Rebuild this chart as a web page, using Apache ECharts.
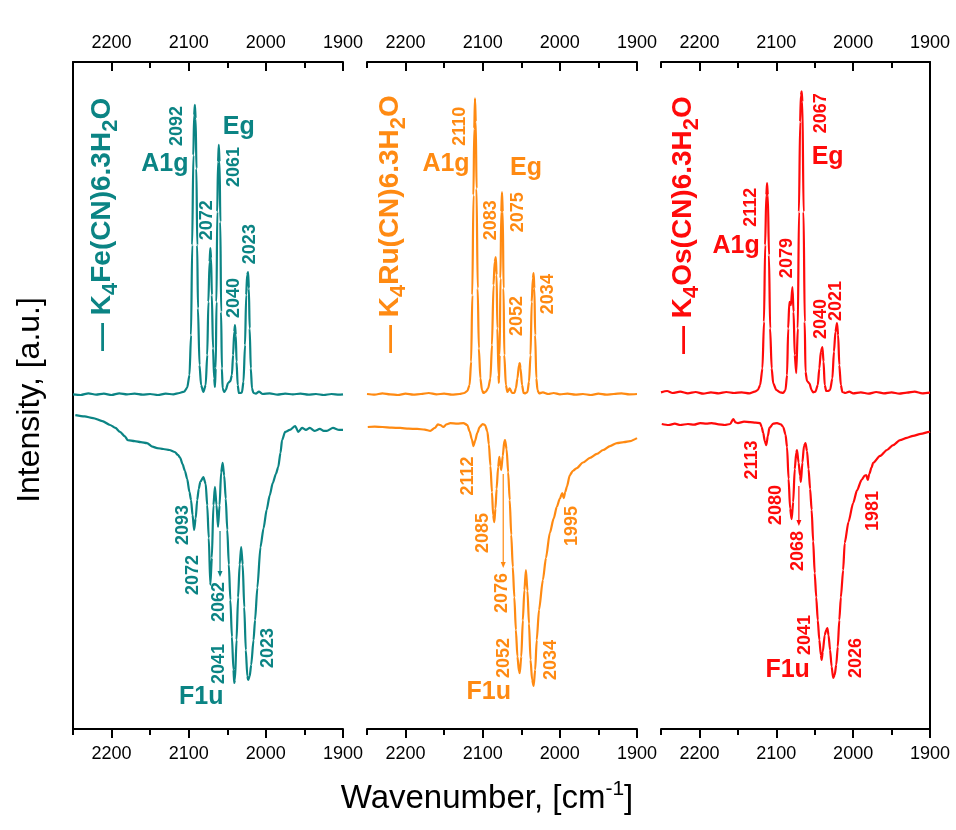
<!DOCTYPE html>
<html>
<head>
<meta charset="utf-8">
<script src="https://cdn.jsdelivr.net/npm/echarts@6/dist/echarts.min.js"></script>
<style>
  html, body { margin: 0; padding: 0; background: #ffffff; }
  #chart { width: 956px; height: 830px; }
</style>
</head>
<body>
<div id="chart"></div>
<script>
// ---- tick values of the wavenumber axes ----
const majorTicks = [2200, 2100, 2000, 1900];
const minorTicks = [2250, 2150, 2050, 1950];

// ---- Raman spectra [wavenumber, intensity] ----
const feRaman = [[2250,0.2],[2240,0.0],[2230,0.5],[2220,0.1],[2210,0.4],[2200,0.0],[2190,0.5],[2180,0.2],[2170,0.4],[2160,0.1],[2150,0.3],[2140,0.0],[2130,0.4],[2120,0.2],[2112,0.6],[2106,1.0],[2102,2.2],[2099,6],[2097,18],[2095.5,45],[2094,72],[2093,84],[2092,87.1],[2091,83],[2090,68],[2089,45],[2088,26],[2086,9],[2084,3],[2081,0.9],[2078,3],[2076,12],[2074.5,28],[2073,40],[2072,44.1],[2071,41],[2070,30],[2068.5,14],[2067,5],[2066,2.4],[2065,8],[2064,28],[2063,55],[2062,70],[2061,75.1],[2060,70],[2059,52],[2058,25],[2057,8],[2056,2],[2054,0.9],[2052,1.5],[2049,3.6],[2046,4.2],[2044,6],[2042.5,12],[2041,19],[2040,21],[2039,18],[2038,10],[2036.5,3],[2035,0.6],[2033,0.6],[2031,0.8],[2029,4],[2027,15],[2025.5,30],[2024.3,36],[2023,36.9],[2022,32],[2021,20],[2019.5,8],[2018,2],[2016,0.6],[2013,0.4],[2009,1.0],[2004,0.3],[1995,0.5],[1985,0.1],[1975,0.4],[1965,0.2],[1955,0.4],[1945,0.1],[1935,0.3],[1925,0.0],[1915,0.3],[1905,0.1],[1900,0.2]];
const ruRaman = [[2250,0.3],[2240,0.1],[2230,0.5],[2220,0.2],[2210,0.0],[2200,0.4],[2190,0.1],[2180,0.3],[2170,0.6],[2160,0.2],[2150,0.4],[2140,0.1],[2130,0.3],[2124,0.6],[2120,1.2],[2117,3],[2115,10],[2113.5,30],[2112,60],[2111,80],[2110,89.1],[2109,82],[2108,62],[2106.5,32],[2105,14],[2103,5],[2101,1.5],[2099,0.6],[2096,1.0],[2093,2],[2090,5],[2088,15],[2086,33],[2084.5,40],[2083,41.4],[2082,36],[2081,20],[2079.5,6],[2079,3.6],[2078,12],[2077,35],[2076,55],[2075,60.9],[2074,55],[2073,32],[2072,12],[2070,3],[2068,0.9],[2065,2],[2062,0.6],[2059,0.6],[2057,2],[2055,5],[2053,9],[2052,9.6],[2051,8],[2049,3],[2047,0.6],[2045,0.5],[2042,0.9],[2040,4],[2038,12],[2036.5,28],[2035,35],[2034,36.6],[2033,32],[2032,18],[2030.5,5],[2029,1.5],[2027,0.5],[2022,0.8],[2015,0.3],[2008,0.6],[2000,0.2],[1990,0.4],[1980,0.1],[1970,0.3],[1960,0.0],[1950,0.4],[1940,0.1],[1930,0.3],[1920,0.5],[1910,0.2],[1900,0.3]];
const osRaman = [[2250,0.8],[2242,1.2],[2235,0.6],[2225,1.0],[2215,0.5],[2205,0.9],[2195,0.4],[2185,0.8],[2175,0.5],[2165,0.9],[2155,0.6],[2145,0.8],[2135,0.5],[2128,1.0],[2124,1.5],[2121,3],[2118,8],[2116,22],[2114.5,45],[2113,60],[2112,63.6],[2111,60],[2109.5,42],[2108,20],[2106,8],[2104,3.5],[2100,1.5],[2095,0.8],[2091,0.6],[2088,1.5],[2086,6],[2084.5,20],[2083,28],[2081,27],[2079,32.4],[2077.5,25],[2076,12],[2074,6.6],[2072,20],[2070.5,55],[2069,82],[2068,90],[2067,91.2],[2066,88],[2064.5,55],[2063,22],[2062,7],[2060,4.2],[2057,3.5],[2054,1.5],[2052,0.8],[2049,1.0],[2046,3],[2044,8],[2042,13],[2040,14.4],[2038.5,10],[2037,3],[2035,1.2],[2033,1.2],[2030,1.5],[2027,5],[2025,13],[2023,19],[2021,21.6],[2019.5,18],[2018,9],[2016,3],[2014,0.9],[2010,0.6],[2005,1.0],[2000,0.5],[1990,0.8],[1980,0.4],[1970,0.9],[1960,0.5],[1950,0.8],[1940,0.4],[1930,0.7],[1920,1.0],[1910,0.5],[1900,0.7]];

// ---- IR transmittance spectra [wavenumber, T] ----
const feIR = [[2247,95.4],[2235,95.0],[2224,94.5],[2212,93.6],[2202,92.4],[2195,91.5],[2189,90.3],[2183,89.0],[2179,87.8],[2170,87.5],[2162,87.2],[2154,86.9],[2147,85.8],[2141,85.4],[2133,85.1],[2125,84.8],[2118,84.2],[2114,83.3],[2111,82.4],[2108,80.5],[2105,78.5],[2102,76.0],[2099,72.0],[2097,69.6],[2095,65],[2093,60.5],[2091,64],[2089,69.6],[2087,73],[2085,75.1],[2081,76.6],[2078,74.5],[2076,68],[2074,58],[2072,43.8],[2070,52],[2068,68],[2066,73.6],[2064,68.1],[2062,61.4],[2060,68],[2058,78],[2056,80.9],[2054,77],[2052,70],[2050,60.5],[2048,50],[2046,39.2],[2044,28],[2042,18],[2041,14.0],[2040,15],[2038,27.1],[2036,40],[2034,50],[2032,55.3],[2030,50],[2028,37],[2026,24.0],[2024,16],[2023,14.9],[2021,16],[2019,19.5],[2016,27],[2014,33.1],[2011,43],[2007,55.3],[2003,61],[1999,66.6],[1995,71],[1991,74.8],[1987,77.5],[1984,79.6],[1981,84],[1979,87.8],[1975,90.3],[1969,90.9],[1962,92.1],[1958,90.3],[1953,91.5],[1948,90.9],[1943,91.5],[1937,90.6],[1930,91.2],[1925,90.6],[1921,90.6],[1913,91.5],[1905,90.9],[1900,90.9]];
const ruIR = [[2249,91.8],[2240,91.9],[2230,91.8],[2218,91.6],[2207,91.5],[2196,91.3],[2185,91.2],[2175,91.0],[2168,90.6],[2162,91.5],[2158,92.6],[2155,92.4],[2151,91.8],[2147,92.6],[2142,93.0],[2133,92.8],[2125,93.0],[2120,92.4],[2117,90.5],[2114,88.0],[2112,86.0],[2110,87.5],[2107,90.0],[2104,91.8],[2100,92.7],[2097,92.4],[2094,90.5],[2092,86.5],[2090,80],[2088,72],[2086.5,65],[2085,62.9],[2083.5,67],[2082,73],[2080,79.6],[2078.5,82.7],[2077,80],[2076,78.7],[2074,83],[2072,87.5],[2071,87.8],[2069,85],[2067,78],[2065,69.6],[2063,59],[2061,49.2],[2059,40],[2057,30.1],[2055,22],[2053,17.5],[2052,17.0],[2050,22],[2048,33],[2046,42.2],[2044,48.3],[2042,42],[2040,32],[2038,21.0],[2036,15],[2034,13.1],[2032,18],[2030,27],[2027,36.2],[2022,45.3],[2018,52],[2013,59.6],[2008,64],[2004,67.5],[2000,70],[1997,71.7],[1995,70.2],[1993,72],[1991,73.6],[1987,77.2],[1983,78.5],[1978,79.3],[1970,81],[1961,82.4],[1952,83.6],[1944,84.8],[1935,86],[1926,86.9],[1917,87.2],[1909,87.5],[1900,88.4]];
const osIR = [[2249,92.7],[2240,92.4],[2232,92.8],[2225,92.4],[2215,92.7],[2207,92.5],[2199,93.0],[2191,92.8],[2184,93.0],[2175,92.6],[2167,92.4],[2160,92.7],[2156,94.2],[2153,93.2],[2150,93.0],[2142,93.4],[2134,93.3],[2127,93.1],[2121,93.0],[2119,91.8],[2117,90.0],[2115,87.5],[2113,86.3],[2111,89.0],[2109,91.5],[2104,92.8],[2099,93.0],[2094,92.6],[2091,91.8],[2088,89.5],[2086,85.7],[2084,76],[2082,67],[2080,63.8],[2078,69],[2076,79],[2074,84],[2073,84.8],[2071,81],[2069,77],[2068,75.1],[2066,81],[2064,86],[2062,86.9],[2060,84.5],[2058,79],[2056,73],[2054,66.6],[2052,57],[2050,47.4],[2048,40],[2046,33],[2044,27.1],[2042,22.5],[2041,21.0],[2039.5,23.5],[2037,28.5],[2035,30.1],[2033.5,30.7],[2032,28.5],[2030,24.0],[2028,19],[2026,15.5],[2024,16.5],[2022,19.5],[2020,25],[2018,33.1],[2016,40],[2013,48.3],[2011,56.5],[2006,63],[2000,68.7],[1995,72.5],[1989,75.7],[1985,77],[1983,77.2],[1981,75.7],[1979,77.5],[1976,79.5],[1974,80.9],[1965,83],[1956,84.8],[1948,86.3],[1939,87.8],[1930,88.5],[1922,89.1],[1912,89.7],[1901,90.3],[1900,90.4]];

// ---- assigned band positions (cm-1) ----
const feRamanPeaks = [2092, 2072, 2061, 2040, 2023];
const feIRBands = [2093, 2072, 2062, 2041, 2023];
const ruRamanPeaks = [2110, 2083, 2075, 2052, 2034];
const ruIRBands = [2112, 2085, 2076, 2052, 2034, 1995];
const osRamanPeaks = [2112, 2079, 2067, 2040, 2021];
const osIRBands = [2113, 2080, 2068, 2041, 2026, 1981];

// ---- compound names (plain text / subscript pieces) ----
const feName = [['n', '\u2014 K'], ['s', '4'], ['n', 'Fe(CN)6.3H'], ['s', '2'], ['n', 'O']];
const ruName = [['n', '\u2014 K'], ['s', '4'], ['n', 'Ru(CN)6.3H'], ['s', '2'], ['n', 'O']];
const osName = [['n', '\u2014 K'], ['s', '4'], ['n', 'Os(CN)6.3H'], ['s', '2'], ['n', 'O']];

// ---- styling / layout ----
const FONT = '"Liberation Sans", Arial, Helvetica, sans-serif';
const COLORS = ['#0b8484', '#ff8a12', '#ff0a0a'];
const panelLeft = [73, 367, 661];
const panelWidth = [270, 270, 269];
const ramanTop = 62, ramanHeight = 338, irTop = 400, irHeight = 329;

// label centre offsets (px) from the band they annotate
const layout = [
  {
    ramanOff: [[-18,21],[-3,-28],[15,22],[-1,-27],[2,-28]],
    irOff: [[-11,-5],[-17,-10],[1,75],[-15,-19],[20,-32]],
    arrowBand: 2062,
    modes: [['A1g','raman',2092,-30,59],['Eg','raman',2061,20,-18],['F1u','ir',2041,-33,14]],
    name: [102, 351]
  },
  {
    ramanOff: [[-15,28],[-5,-37],[16,20],[-3,-47],[14,21]],
    irOff: [[-5,30],[-11,11],[1,123],[-16,-15],[17,-26],[8,28]],
    arrowBand: 2076,
    modes: [['A1g','raman',2110,-29,66],['Eg','raman',2075,24,-24],['F1u','ir',2052,-31,19]],
    name: [390, 353]
  },
  {
    ramanOff: [[-16,24],[-5,-29],[19,22],[-1,-28],[-1,-22]],
    irOff: [[-14,15],[-16,-14],[-3,69],[-17,-25],[23,-20],[5,31]],
    arrowBand: 2068,
    modes: [['A1g','raman',2112,-31,63],['Eg','raman',2067,26,66],['F1u','ir',2041,-34,10]],
    name: [683, 354]
  }
];

const panels = [
  { raman: feRaman, ir: feIR, ramanPeaks: feRamanPeaks, irBands: feIRBands, name: feName },
  { raman: ruRaman, ir: ruIR, ramanPeaks: ruRamanPeaks, irBands: ruIRBands, name: ruName },
  { raman: osRaman, ir: osIR, ramanPeaks: osRamanPeaks, irBands: osIRBands, name: osName }
];

const chart = echarts.init(document.getElementById('chart'), null, { renderer: 'canvas' });

const grids = [], xAxes = [], yAxes = [], series = [];
const axisLineStyle = { color: '#000', width: 2 };

panels.forEach((p, i) => {
  grids.push({ left: panelLeft[i], width: panelWidth[i], top: ramanTop, height: ramanHeight });
  grids.push({ left: panelLeft[i], width: panelWidth[i], top: irTop, height: irHeight });
});

for (let g = 0; g < 6; g++) {
  const isTop = g % 2 === 0;
  const base = {
    type: 'value', gridIndex: g, min: 1900, max: 2250, interval: 50, inverse: true,
    position: isTop ? 'top' : 'bottom', splitLine: { show: false }
  };
  xAxes.push(Object.assign({}, base, {
    axisLine: { show: true, onZero: false, lineStyle: axisLineStyle },
    axisTick: { show: true, inside: isTop, length: 9, customValues: majorTicks, lineStyle: axisLineStyle },
    axisLabel: {
      show: true, customValues: majorTicks, formatter: v => String(v),
      fontSize: 18, color: '#000', fontFamily: FONT, margin: isTop ? 10 : 16
    }
  }));
  xAxes.push(Object.assign({}, base, {
    axisLine: { show: false, onZero: false },
    axisTick: { show: true, inside: isTop, length: 6, customValues: minorTicks, lineStyle: axisLineStyle },
    axisLabel: { show: false }
  }));
  const panel = Math.floor(g / 2);
  yAxes.push({
    type: 'value', gridIndex: g,
    min: isTop ? -1.5 : 0, max: 100,
    position: panel === 2 ? 'right' : 'left',
    axisLine: { show: panel !== 1, onZero: false, lineStyle: axisLineStyle },
    axisTick: { show: false }, axisLabel: { show: false }, splitLine: { show: false }
  });
}

panels.forEach((p, i) => {
  [p.raman, p.ir].forEach((data, k) => {
    const g = 2 * i + k;
    series.push({
      type: 'line', xAxisIndex: 2 * g, yAxisIndex: g, data: data,
      showSymbol: false, smooth: 0.25, smoothMonotone: 'x',
      lineStyle: { color: COLORS[i], width: 2.2 }, itemStyle: { color: COLORS[i] },
      silent: true, animation: false
    });
  });
});

chart.setOption({
  backgroundColor: '#ffffff',
  animation: false,
  grid: grids, xAxis: xAxes, yAxis: yAxes, series: series
});

// ---- annotations placed from data coordinates ----
function valueAt(data, w) {
  const pt = data.find(d => d[0] === w);
  return pt ? pt[1] : 0;
}
function toPx(seriesIndex, data, w) {
  return chart.convertToPixel({ seriesIndex: seriesIndex }, [w, valueAt(data, w)]);
}
function bandLabel(x, y, text, color) {
  return {
    type: 'text', x: x, y: y, rotation: Math.PI / 2, z: 10, silent: true,
    style: { text: text, fill: color, font: 'bold 18px ' + FONT, align: 'center', verticalAlign: 'middle' }
  };
}

const graphics = [];
panels.forEach((p, i) => {
  const L = layout[i], color = COLORS[i];
  const sR = 2 * i, sI = 2 * i + 1;
  p.ramanPeaks.forEach((w, j) => {
    const [x, y] = toPx(sR, p.raman, w);
    graphics.push(bandLabel(x + L.ramanOff[j][0], y + L.ramanOff[j][1], String(w), color));
  });
  p.irBands.forEach((w, j) => {
    const [x, y] = toPx(sI, p.ir, w);
    const lx = x + L.irOff[j][0], ly = y + L.irOff[j][1];
    graphics.push(bandLabel(lx, ly, String(w), color));
    if (w === L.arrowBand) {
      const ax = lx + 1, y1 = y + 4, y2 = ly - 25;
      graphics.push({ type: 'line', z: 10, silent: true, shape: { x1: ax, y1: y1, x2: ax, y2: y2 - 5 },
        style: { stroke: color, lineWidth: 1.2 } });
      graphics.push({ type: 'polygon', z: 10, silent: true,
        shape: { points: [[ax - 2.5, y2 - 6], [ax + 2.5, y2 - 6], [ax, y2]] }, style: { fill: color } });
    }
  });
  L.modes.forEach(([text, kind, w, dx, dy]) => {
    const [x, y] = kind === 'raman' ? toPx(sR, p.raman, w) : toPx(sI, p.ir, w);
    graphics.push({ type: 'text', x: x + dx, y: y + dy, z: 10, silent: true,
      style: { text: text, fill: color, font: 'bold 25px ' + FONT, align: 'center', verticalAlign: 'middle' } });
  });
  // compound name, drawn upright along the panel
  graphics.push({
    type: 'text', x: L.name[0], y: L.name[1], rotation: Math.PI / 2, z: 10, silent: true,
    style: {
      text: p.name.map(([k, t]) => '{' + k + '|' + t + '}').join(''),
      align: 'left', verticalAlign: 'middle',
      rich: {
        n: { fontSize: 28, fontWeight: 'bold', fontFamily: FONT, fill: color, lineHeight: 40, verticalAlign: 'middle' },
        s: { fontSize: 22, fontWeight: 'bold', fontFamily: FONT, fill: color, lineHeight: 40, verticalAlign: 'bottom' }
      }
    }
  });
});

// axis titles
graphics.push({
  type: 'text', x: 30, y: 400, rotation: Math.PI / 2, silent: true,
  style: { text: 'Intensity, [a.u.]', fill: '#000', font: '32px ' + FONT, align: 'center', verticalAlign: 'middle' }
});
graphics.push({
  type: 'text', x: 487, y: 799, silent: true,
  style: {
    text: '{n|Wavenumber, [cm}{s|-1}{n|]}', align: 'center', verticalAlign: 'middle',
    rich: {
      n: { fontSize: 33, fontFamily: FONT, fill: '#000', lineHeight: 40, verticalAlign: 'middle' },
      s: { fontSize: 21, fontFamily: FONT, fill: '#000', lineHeight: 40, verticalAlign: 'top' }
    }
  }
});

chart.setOption({ graphic: graphics });
</script>
</body>
</html>
